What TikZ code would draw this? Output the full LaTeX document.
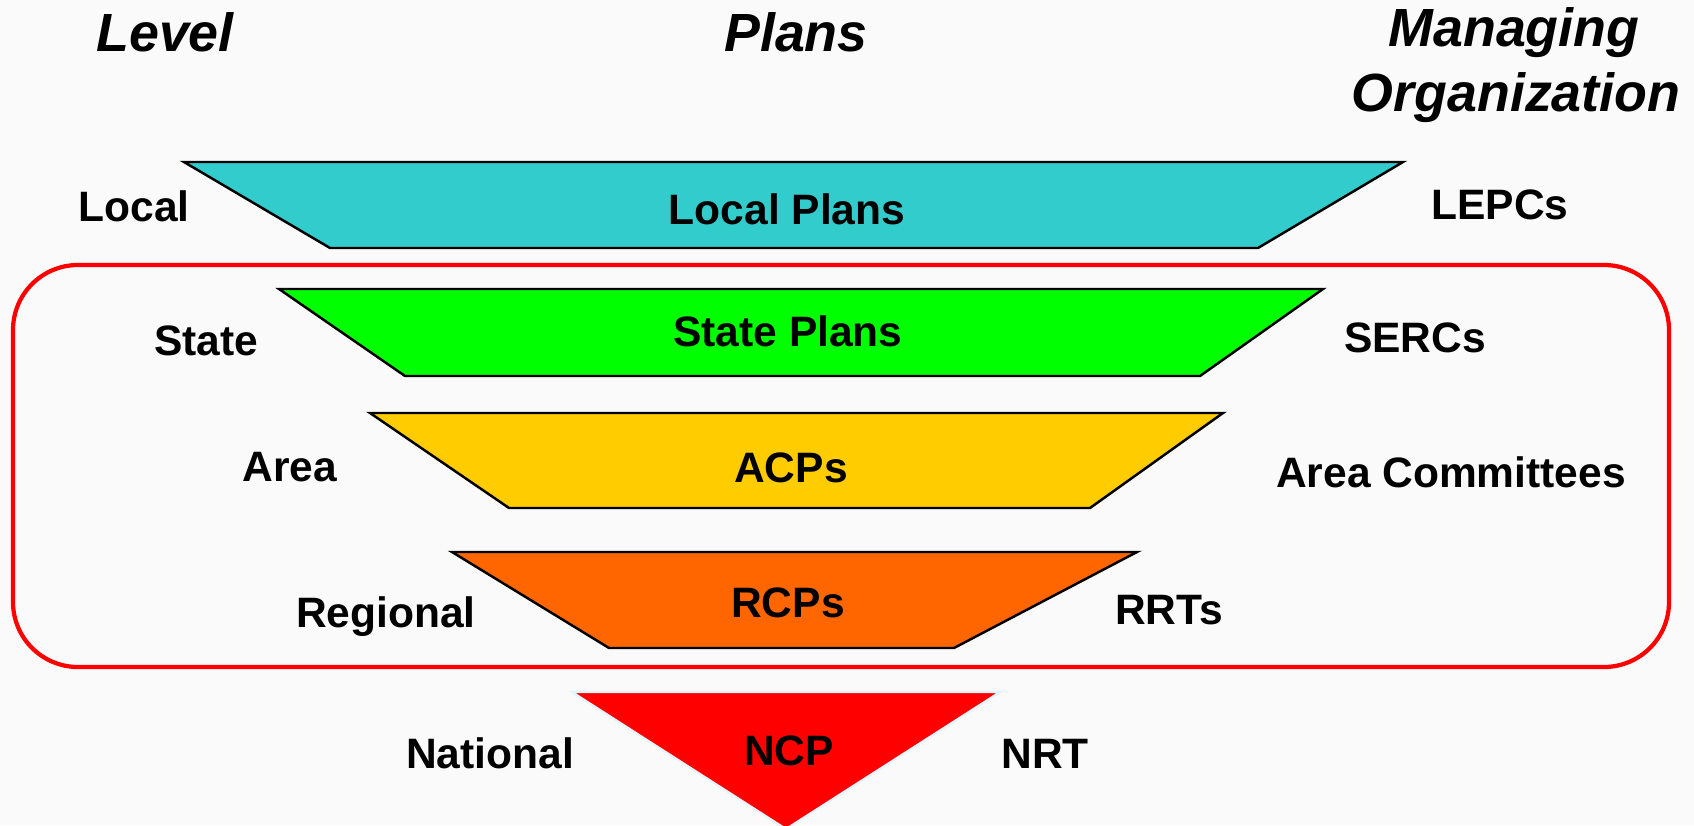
\documentclass[tikz,border=0pt]{standalone}
\usepackage{fontspec}
\setmainfont{Liberation Sans}
\definecolor{localcyan}{HTML}{33CCCC}
\definecolor{stategreen}{HTML}{00FF00}
\definecolor{areayellow}{HTML}{FFCC00}
\definecolor{regionorange}{HTML}{FF6600}
\definecolor{nationred}{HTML}{FF0000}
\tikzset{
  band/.style={draw=black, line width=0.7pt},
  headtext/.style={anchor=base, inner sep=0pt, font=\fontsize{15.3}{18}\selectfont\bfseries\itshape},
  tiertext/.style={anchor=base, inner sep=0pt, font=\fontsize{12.1}{14}\selectfont\bfseries},
}

\begin{document}
\begin{tikzpicture}
			%%%%% START %%%%%
			
			\useasboundingbox (0, 0) rectangle (16.94, 8.25);
			\fill[black!2] (0, 0) rectangle (16.94, 8.25);
			
			\node[headtext] (levelhead) at (1.65, 7.73) {Level};
			\node[headtext] (planshead) at (7.96, 7.73) {Plans};
			\node[headtext] (orghead) at (15.14, 7.78) {Managing};
			\node[headtext] (orghead2) at (15.16, 7.13) {Organization};
			
			\draw[band, fill=localcyan] (1.84, 6.63) -- (14.03, 6.63) -- (12.58, 5.77) -- (3.30, 5.77) -- cycle;
			\node[tiertext] (localplans) at (7.87, 6.00) {Local Plans};
			\node[tiertext] (locallevel) at (1.34, 6.03) {Local};
			\node[tiertext] (localorg) at (15.00, 6.05) {LEPCs};
			
			\draw[color=nationred, line width=1.2pt, rounded corners=0.65cm] (0.13, 1.58) rectangle (16.69, 5.60);
			
			\draw[band, fill=stategreen] (2.79, 5.36) -- (13.23, 5.36) -- (12.00, 4.49) -- (4.05, 4.49) -- cycle;
			\node[tiertext] (stateplans) at (7.88, 4.78) {State Plans};
			\node[tiertext] (statelevel) at (2.06, 4.69) {State};
			\node[tiertext] (stateorg) at (14.15, 4.72) {SERCs};
			
			\draw[band, fill=areayellow] (3.70, 4.12) -- (12.23, 4.12) -- (10.90, 3.17) -- (5.09, 3.17) -- cycle;
			\node[tiertext] (areaplans) at (7.91, 3.43) {ACPs};
			\node[tiertext] (arealevel) at (2.90, 3.44) {Area};
			\node[tiertext] (areaorg) at (14.51, 3.37) {Area Committees};
			
			\draw[band, fill=regionorange] (4.52, 2.73) -- (11.37, 2.73) -- (9.54, 1.77) -- (6.09, 1.77) -- cycle;
			\node[tiertext] (regionplans) at (7.88, 2.08) {RCPs};
			\node[tiertext] (regionlevel) at (3.86, 1.98) {Regional};
			\node[tiertext] (regionorg) at (11.69, 2.01) {RRTs};
			
			\draw[draw=cyan!12, line width=0.6pt, fill=nationred] (5.72, 1.33) -- (10.00, 1.33) -- (7.86, -0.04) -- cycle;
			\node[tiertext] (nationplans) at (7.89, 0.60) {NCP};
			\node[tiertext] (nationlevel) at (4.90, 0.57) {National};
			\node[tiertext] (nationorg) at (10.45, 0.57) {NRT};
			
			%%%%% END %%%%%
\end{tikzpicture}
\end{document}
